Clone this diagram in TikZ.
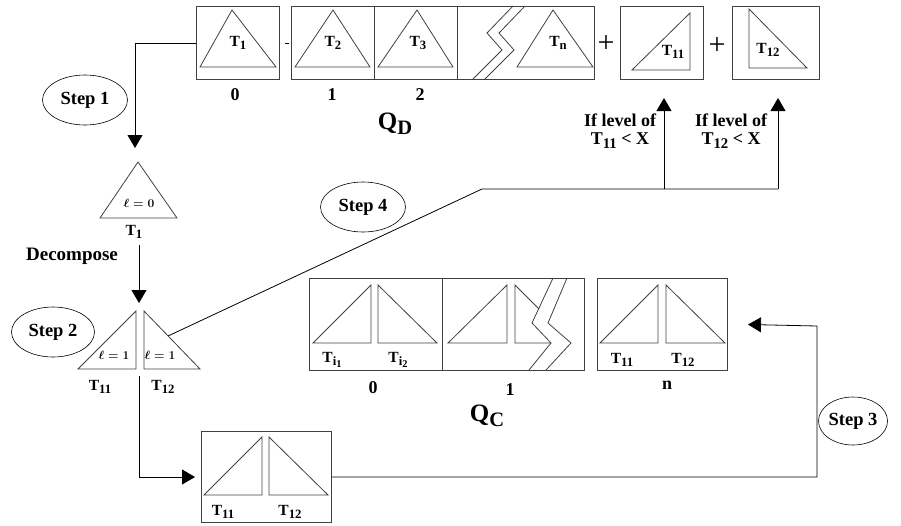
\documentclass[tikz,border=0pt]{standalone}
\usepackage{fontspec}
\usepackage{graphicx}
\setmainfont{Liberation Serif}
\usetikzlibrary{shapes.geometric, arrows.meta, positioning}
\newcommand{\subidx}[1]{\raisebox{-0.45ex}{\scalebox{0.82}{#1}}}

\begin{document}
\begin{tikzpicture}[
    x=1pt, y=-1pt,
    qbox/.style={draw=black!75, line width=1pt, minimum width=#1, minimum height=73pt,
                 anchor=north west, inner sep=0pt},
    cbox/.style={draw=black!75, line width=1pt, minimum width=#1, minimum height=92pt,
                 anchor=north west, inner sep=0pt},
    stepnote/.style={ellipse, draw, line width=0.6pt, minimum width=#1, minimum height=50pt,
                 inner sep=0pt, font=\bfseries\fontsize{18.5}{20}\selectfont},
    tri/.style={draw=black!75, line width=0.8pt},
    tlab/.style={font=\bfseries\fontsize{15.5}{16}\selectfont, inner sep=0pt},
    lvl/.style={font=\boldmath\fontsize{13}{14}\selectfont, inner sep=0pt},
    idx/.style={font=\bfseries\fontsize{18}{18}\selectfont, inner sep=0pt},
    cond/.style={font=\bfseries\fontsize{18}{18}\selectfont, align=center, inner sep=0pt},
    plus/.style={font=\fontsize{30}{30}\selectfont, inner sep=0pt},
    arrow/.style={-{Triangle[width=15pt, length=13pt]}, line width=0.8pt}
]
    \useasboundingbox (0,0) rectangle (901,525);

    % Queue QD
    \node[qbox=83] (d0) at (196,6) {};
    \node[qbox=83] (d1) at (291,6) {};
    \node[qbox=83] (d2) at (374,6) {};
    \node[qbox=137] (dn) at (457,6) {};
    \node[qbox=83] (d11) at (620,6) {};
    \node[qbox=87] (d12) at (732,6) {};
    \draw[tri] (200,67) -- (232,10) -- (276,67) -- cycle;
    \draw[tri] (295,67) -- (333,10) -- (370,67) -- cycle;
    \draw[tri] (378,67) -- (417,10) -- (453,67) -- cycle;
    \draw[tri] (517,67) -- (553,10) -- (593,67) -- cycle;
    \draw[tri] (632,70) -- (690,13) -- (690,70) -- cycle;
    \draw[tri] (749,9) -- (749,68) -- (807,68) -- cycle;
    \draw[tri] (473,79) -- (502,50) -- (487,33) -- (513,6);
    \draw[tri] (485,79) -- (514,50) -- (499,33) -- (525,6);
    \node[tlab] (lt1) at (238,43) {T\subidx{1}};
    \node[tlab] (lt2) at (333,43) {T\subidx{2}};
    \node[tlab] (lt3) at (418,43) {T\subidx{3}};
    \node[tlab] (ltn) at (558,43) {T\subidx{n}};
    \node[tlab] (lt11) at (673,52) {T\subidx{11}};
    \node[tlab] (lt12) at (768,50) {T\subidx{12}};
    \draw[line width=0.8pt] ([xshift=5pt]d0.east) -- ([xshift=-2pt]d1.west);
    \node[plus] (p1) at (606,44) {+};
    \node[plus] (p2) at (717,46) {+};
    \node[idx] (i0) at (235,95) {0};
    \node[idx] (i1) at (332,95) {1};
    \node[idx] (i2) at (420,95) {2};
    \node[font=\bfseries\fontsize{25}{28}\selectfont, inner sep=0pt] (qd) at (395,124) {Q\subidx{D}};

    % Step 1 and decompose
    \node[stepnote=85] (s1) at (85,100) {Step 1};
    \coordinate (t1top) at (135,148);
    \draw[arrow] (d0.west) -| (t1top);
    \draw[tri] (100,218) -- (138,162) -- (177,218) -- cycle;
    \node[lvl] (l0) at (139,203) {$\ell = 0$};
    \node[tlab] (lt1b) at (134,232) {T\subidx{1}};
    \node[font=\bfseries\fontsize{19}{20}\selectfont] (dec) at (72,256) {Decompose};
    \coordinate (dtop) at (139,245);
    \coordinate (dbot) at (139,303);
    \draw[arrow] (dtop) -- (dbot);

    % Step 2 split
    \node[stepnote=83] (s2) at (53,332) {Step 2};
    \draw[tri] (78,369) -- (136,311) -- (136,369) -- cycle;
    \draw[tri] (144,311) -- (144,369) -- (200,369) -- cycle;
    \node[lvl] (l1a) at (114,355) {$\ell = 1$};
    \node[lvl] (l1b) at (160,355) {$\ell = 1$};
    \node[tlab] (lt11b) at (100,387) {T\subidx{11}};
    \node[tlab] (lt12b) at (163,387) {T\subidx{12}};

    % Bottom box
    \node[cbox=130, minimum height=91pt] (cb) at (201,431) {};
    \draw[tri] (204,495) -- (262,437) -- (262,495) -- cycle;
    \draw[tri] (269,437) -- (269,495) -- (328,495) -- cycle;
    \node[tlab] (lb11) at (223,512) {T\subidx{11}};
    \node[tlab] (lb12) at (290,512) {T\subidx{12}};
    \coordinate (sp) at (139,376);
    \draw[arrow] (sp) |- ([xshift=-6pt]cb.west);

    % Queue QC
    \node[cbox=133] (c0) at (309,278) {};
    \node[cbox=142] (c1) at (442,278) {};
    \node[cbox=130] (cn) at (597,278) {};
    \draw[tri] (313,343) -- (371,285) -- (371,343) -- cycle;
    \draw[tri] (378,285) -- (378,343) -- (437,343) -- cycle;
    \draw[tri] (448,343) -- (507,285) -- (507,343) -- cycle;
    \draw[tri] (539,309) -- (515,285) -- (515,343) -- (551,343);
    \draw[tri] (529,370) -- (551,343) -- (532,323) -- (553,278);
    \draw[tri] (546,370) -- (571,343) -- (548,323) -- (567,278);
    \draw[tri] (600,343) -- (658,285) -- (658,343) -- cycle;
    \draw[tri] (666,285) -- (666,343) -- (725,343) -- cycle;
    \node[tlab] (lci1) at (332,360) {T\subidx{i\subidx{1}}};
    \node[tlab] (lci2) at (398,360) {T\subidx{i\subidx{2}}};
    \node[tlab] (lcn11) at (622,360) {T\subidx{11}};
    \node[tlab] (lcn12) at (683,360) {T\subidx{12}};
    \node[idx] (j0) at (373,388) {0};
    \node[idx] (j1) at (510,390) {1};
    \node[idx] (jn) at (667,385) {n};
    \node[font=\bfseries\fontsize{25}{28}\selectfont, inner sep=0pt] (qc) at (487,416) {Q\subidx{C}};

    % Step 3
    \node[stepnote=68, minimum height=48pt] (s3) at (853,421) {Step 3};
    \coordinate (s3c) at (817,326);
    \draw[arrow] (cb.east) -| (s3c) -- ([xshift=20pt]cn.east);

    % Step 4
    \node[stepnote=85] (s4) at (363,207) {Step 4};
    \coordinate (s4a) at (168,336);
    \coordinate (s4b) at (482,189);
    \coordinate (j11) at (664,189);
    \coordinate (j12) at (778,189);
    \draw[line width=0.8pt] (s4a) -- (s4b) -- (j12);
    \draw[arrow] (j11) -- ([yshift=-18pt]j11 |- d11.south);
    \draw[arrow] (j12) -- ([yshift=-18pt]j12 |- d12.south);
    \node[cond] (c11) at (620,131) {If level of\\T\subidx{11} < X};
    \node[cond] (c12) at (731,131) {If level of\\T\subidx{12} < X};
\end{tikzpicture}
\end{document}
